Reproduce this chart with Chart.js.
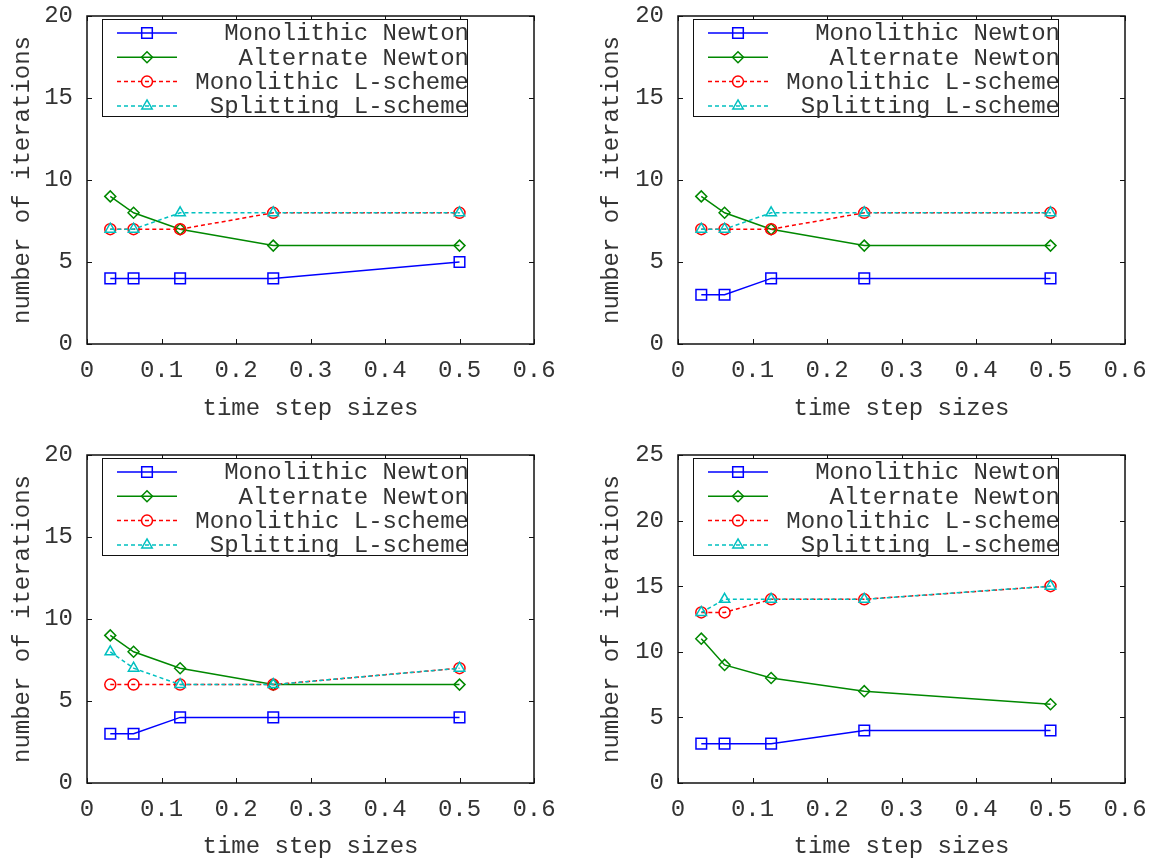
<!DOCTYPE html>
<html>
<head>
<meta charset="utf-8">
<script src="https://cdn.jsdelivr.net/npm/chart.js@4"></script>
<style>
  html, body { margin: 0; padding: 0; background: #fff; }
  body { width: 1151px; height: 859px; position: relative; overflow: hidden; }
  canvas { position: absolute; }
</style>
</head>
<body>
<canvas id="c1" width="575" height="430" style="left:0;top:0"></canvas>
<canvas id="c2" width="576" height="430" style="left:575px;top:0"></canvas>
<canvas id="c3" width="575" height="429" style="left:0;top:430px"></canvas>
<canvas id="c4" width="576" height="429" style="left:575px;top:430px"></canvas>
<script>
// time step sizes (1/32 ... 1/2)
const timeSteps = [0.03125, 0.0625, 0.125, 0.25, 0.5]
const seriesNames = ['Monolithic Newton', 'Alternate Newton', 'Monolithic L-scheme', 'Splitting L-scheme']
const xTicks = [0, 0.1, 0.2, 0.3, 0.4, 0.5, 0.6]

// panel 1 (top left)
const p1MonoNewton = [4, 4, 4, 4, 5]
const p1AltNewton = [9, 8, 7, 6, 6]
const p1MonoL = [7, 7, 7, 8, 8]
const p1SplitL = [7, 7, 8, 8, 8]
// panel 2 (top right)
const p2MonoNewton = [3, 3, 4, 4, 4]
const p2AltNewton = [9, 8, 7, 6, 6]
const p2MonoL = [7, 7, 7, 8, 8]
const p2SplitL = [7, 7, 8, 8, 8]
// panel 3 (bottom left)
const p3MonoNewton = [3, 3, 4, 4, 4]
const p3AltNewton = [9, 8, 7, 6, 6]
const p3MonoL = [6, 6, 6, 6, 7]
const p3SplitL = [8, 7, 6, 6, 7]
// panel 4 (bottom right)
const p4MonoNewton = [3, 3, 3, 4, 4]
const p4AltNewton = [11, 9, 8, 7, 6]
const p4MonoL = [13, 13, 14, 14, 15]
const p4SplitL = [13, 14, 14, 14, 15]

const yTicks20 = [0, 5, 10, 15, 20]
const yTicks25 = [0, 5, 10, 15, 20, 25]

const FONT = 'Liberation Mono'
const TEXT = '#333'

const styles = [
  { color: '#0000ff', dash: [], point: 'rect', radius: 7.5 },
  { color: '#008800', dash: [], point: 'rectRot', radius: 5.5 },
  { color: '#ff0000', dash: [4, 3], point: 'circle', radius: 5.5 },
  { color: '#00c0c0', dash: [4, 3], point: 'triangle', radius: 6 }
]

// gnuplot-style frame with inward ticks on all sides + boxed legend
const framePlugin = {
  id: 'frame',
  afterDatasetsDraw(chart) {
    const ctx = chart.ctx
    const a = chart.chartArea
    const xs = chart.scales.x, ys = chart.scales.y
    ctx.save()
    ctx.strokeStyle = '#111'
    ctx.lineWidth = 1.5
    ctx.setLineDash([])
    ctx.strokeRect(a.left, a.top, a.right - a.left, a.bottom - a.top)
    ctx.lineWidth = 1
    const tl = 5
    ctx.beginPath()
    xs.ticks.forEach(t => {
      const px = Math.round(xs.getPixelForValue(t.value)) + 0.5
      ctx.moveTo(px, a.bottom); ctx.lineTo(px, a.bottom - tl)
      ctx.moveTo(px, a.top); ctx.lineTo(px, a.top + tl)
    })
    ys.ticks.forEach(t => {
      const py = Math.round(ys.getPixelForValue(t.value)) + 0.5
      ctx.moveTo(a.left, py); ctx.lineTo(a.left + tl, py)
      ctx.moveTo(a.right, py); ctx.lineTo(a.right - tl, py)
    })
    ctx.stroke()

    // legend
    const bx = a.left + 15, by = a.top + 3, bw = 365, bh = 97
    ctx.fillStyle = '#fff'
    ctx.fillRect(bx, by, bw, bh)
    ctx.strokeStyle = '#111'
    ctx.lineWidth = 1
    ctx.strokeRect(bx + 0.5, by + 0.5, bw, bh)
    ctx.font = '24px "' + FONT + '"'
    ctx.textAlign = 'right'
    ctx.textBaseline = 'middle'
    chart.data.datasets.forEach((ds, i) => {
      const st = styles[i]
      const ry = by + 14 + i * 24.3
      ctx.strokeStyle = st.color
      ctx.lineWidth = 1.5
      ctx.setLineDash(st.dash)
      ctx.beginPath()
      ctx.moveTo(bx + 15, ry); ctx.lineTo(bx + 75, ry)
      ctx.stroke()
      ctx.setLineDash([])
      ctx.fillStyle = 'rgba(0,0,0,0)'
      Chart.helpers.drawPoint(ctx, { pointStyle: st.point, radius: st.radius, borderWidth: 1.5 }, bx + 45, ry)
      ctx.fillStyle = TEXT
      ctx.fillText(ds.label, bx + bw + 2, ry + 1)
    })
    ctx.restore()
  }
}

function makeDatasets(series) {
  return series.map((vals, i) => ({
    label: seriesNames[i],
    data: vals.map((v, k) => ({ x: timeSteps[k], y: v })),
    borderColor: styles[i].color,
    borderWidth: 1.5,
    borderDash: styles[i].dash,
    pointStyle: styles[i].point,
    pointRadius: styles[i].radius,
    pointBorderWidth: 1.5,
    pointBorderColor: styles[i].color,
    pointBackgroundColor: 'rgba(0,0,0,0)',
    tension: 0,
    fill: false,
    order: 4 - i
  }))
}

// invisible tick marks act as the label gap, so they do not add to scale padding
const hiddenGrid = len => ({
  display: true, drawOnChartArea: false, drawTicks: true,
  tickLength: len, tickColor: 'rgba(0,0,0,0)', color: 'rgba(0,0,0,0)'
})

function makeChart(id, series, yTickVals, lay) {
  const font = { family: FONT, size: 24 }
  new Chart(document.getElementById(id), {
    type: 'line',
    data: { datasets: makeDatasets(series) },
    options: {
      responsive: false,
      animation: false,
      layout: { padding: { left: 0, top: lay.top, right: lay.right, bottom: 0 } },
      plugins: { legend: { display: false }, tooltip: { enabled: false } },
      scales: {
        x: {
          type: 'linear',
          min: xTicks[0],
          max: xTicks[xTicks.length - 1],
          afterBuildTicks: s => { s.ticks = xTicks.map(v => ({ value: v })) },
          ticks: {
            font, color: TEXT, padding: 0, maxRotation: 0, autoSkip: false,
            callback: v => (v === 0 ? '0' : v.toFixed(1))
          },
          grid: hiddenGrid(12),
          border: { display: false },
          title: { display: true, text: 'time step sizes', font, color: TEXT, padding: { top: 0, bottom: lay.xtPad } },
          afterFit: s => { s.height = lay.axisH }
        },
        y: {
          type: 'linear',
          min: yTickVals[0],
          max: yTickVals[yTickVals.length - 1],
          afterBuildTicks: s => { s.ticks = yTickVals.map(v => ({ value: v })) },
          ticks: { font, color: TEXT, padding: 0, autoSkip: false, callback: v => String(v) },
          grid: hiddenGrid(14),
          border: { display: false },
          title: { display: true, text: 'number of iterations', font, color: TEXT, padding: { top: lay.ytPad, bottom: 0 } },
          afterFit: s => { s.width = lay.axisW }
        }
      }
    },
    plugins: [framePlugin]
  })
}

makeChart('c1', [p1MonoNewton, p1AltNewton, p1MonoL, p1SplitL], yTicks20,
  { top: 16, right: 41, axisW: 87, axisH: 86, xtPad: 7, ytPad: 8 })
makeChart('c2', [p2MonoNewton, p2AltNewton, p2MonoL, p2SplitL], yTicks20,
  { top: 16, right: 26, axisW: 103, axisH: 86, xtPad: 7, ytPad: 22 })
makeChart('c3', [p3MonoNewton, p3AltNewton, p3MonoL, p3SplitL], yTicks20,
  { top: 25, right: 41, axisW: 87, axisH: 76, xtPad: -2, ytPad: 8 })
makeChart('c4', [p4MonoNewton, p4AltNewton, p4MonoL, p4SplitL], yTicks25,
  { top: 25, right: 26, axisW: 103, axisH: 76, xtPad: -2, ytPad: 22 })
</script>
</body>
</html>
